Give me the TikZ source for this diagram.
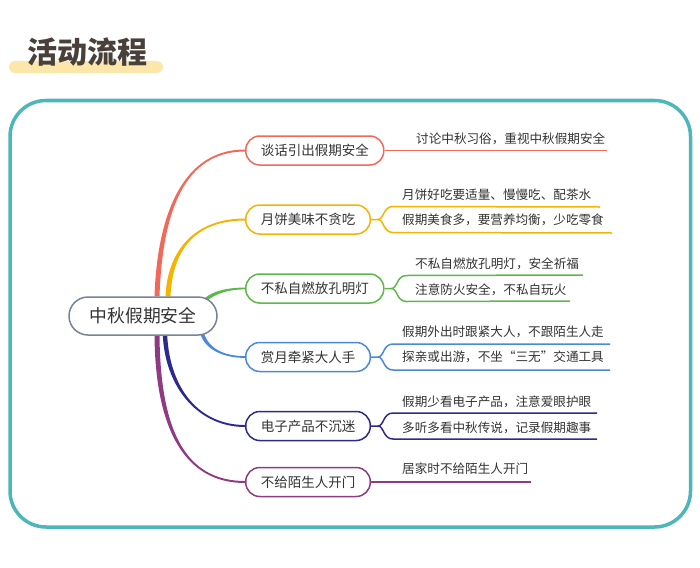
\documentclass[tikz,border=0pt]{standalone}
\usepackage{fontspec}
\usetikzlibrary{calc,backgrounds}
\newfontfamily\cjk{Noto Sans CJK SC}
\definecolor{cred}{HTML}{F0695B}
\definecolor{corange}{HTML}{F6B300}
\definecolor{cgreen}{HTML}{5DB947}
\definecolor{cblue}{HTML}{4A88D8}
\definecolor{cnavy}{HTML}{2C2A8C}
\definecolor{cpurple}{HTML}{8F3A82}
\definecolor{cteal}{HTML}{4DB6BA}
\definecolor{crootb}{HTML}{778396}
\definecolor{txt}{HTML}{333333}
\definecolor{titlec}{HTML}{4A403A}
\definecolor{barc}{HTML}{FCE6AA}
\newcommand\taper[7]{\fill[#1] ($(#2)+(#6)$) .. controls ($(#3)+(#6)$) and ($(#4)+(#7)$) .. ($(#5)+(#7)$) -- ($(#5)-(#7)$) .. controls ($(#4)-(#7)$) and ($(#3)-(#6)$) .. ($(#2)-(#6)$) -- cycle;}
\begin{document}
\begin{tikzpicture}[x=1pt,y=-1pt,font=\cjk,
  branchbox/.style={draw=#1, line width=1.5pt, rounded corners=14pt, fill=white, text=txt, inner xsep=15pt, inner ysep=0pt, minimum height=29pt, anchor=west, font=\cjk\fontsize{13.5}{16}\selectfont},
  leaftext/.style={anchor=west, inner sep=0pt, text=txt, font=\cjk\fontsize{12.6}{15}\selectfont},
  leafline/.style={draw=#1, line width=1.5pt}]
\useasboundingbox (0,0) rectangle (700,567);
% title
\fill[barc, rounded corners=6pt] (9,61) rectangle (163,73);
\node[anchor=west, inner sep=0pt, text=titlec, font=\cjk\bfseries\fontsize{30}{32}\selectfont] (title) at (27,52) {活动流程};
% frame
\draw[cteal, line width=3.5pt, rounded corners=36pt] (10,100.5) rectangle (690.5,527);
% root
\node[draw=crootb, line width=1.5pt, rounded corners=19pt, minimum width=148pt, minimum height=38pt, inner sep=0pt, fill=white, text=txt, font=\cjk\fontsize{17.8}{20}\selectfont] (root) at (143,316) {中秋假期安全};
% branches
\node[branchbox=cred] (b1) at (245,150.5) {谈话引出假期安全};
\node[branchbox=corange] (b2) at (245,219.5) {月饼美味不贪吃};
\node[branchbox=cgreen] (b3) at (245,288.5) {不私自燃放孔明灯};
\node[branchbox=cblue] (b4) at (245,357) {赏月牵紧大人手};
\node[branchbox=cnavy] (b5) at (245,426) {电子产品不沉迷};
\node[branchbox=cpurple] (b6) at (245,482) {不给陌生人开门};
% leaves
\node[leaftext] (l1) at (416,139) {讨论中秋习俗，重视中秋假期安全};
\node[leaftext] (l2a) at (402,195) {月饼好吃要适量、慢慢吃、配茶水};
\node[leaftext] (l2b) at (402,220) {假期美食多，要营养均衡，少吃零食};
\node[leaftext] (l3a) at (415,264) {不私自燃放孔明灯，安全祈福};
\node[leaftext] (l3b) at (415,290) {注意防火安全，不私自玩火};
\node[leaftext] (l4a) at (402,332) {假期外出时跟紧大人，不跟陌生人走};
\node[leaftext] (l4b) at (402,357) {探亲或出游，不坐“三无”交通工具};
\node[leaftext] (l5a) at (402,402) {假期少看电子产品，注意爱眼护眼};
\node[leaftext] (l5b) at (402,428) {多听多看中秋传说，记录假期趣事};
\node[leaftext] (l6) at (402,469) {居家时不给陌生人开门};
% line ends
\coordinate (e1) at (607,150.5);
\coordinate (e2a) at (600,207);
\coordinate (e2b) at (612,233);
\coordinate (e3a) at (583,275);
\coordinate (e3b) at (570,301);
\coordinate (e4a) at (610,344);
\coordinate (e4b) at (610,370);
\coordinate (e5a) at (597,413);
\coordinate (e5b) at (597,439);
\coordinate (e6) at (531,482);
% root connector starts
\coordinate (s1) at ($(root.north)+(14,0)$);
\coordinate (s2) at ($(root.north)+(25,0)$);
\coordinate (s3) at ($(root.center)+(62,-16)$);
\coordinate (s4) at ($(root.center)+(59,17)$);
\coordinate (s5) at ($(root.south)+(22,0)$);
\coordinate (s6) at ($(root.south)+(14,0)$);
\begin{scope}[on background layer]
\fill[white] (0,0) rectangle (700,567);
\taper{cred}{s1}{160,210}{185,150.5}{b1.west}{2.5,0}{0,1}
\taper{corange}{s2}{170,250}{195,219.5}{b2.west}{2.5,0}{0,1}
\taper{cgreen}{s3}{215,292}{228,288.5}{b3.west}{0.7,1.6}{0,0.9}
\taper{cblue}{s4}{207,350}{225,357}{b4.west}{1.7,-0.6}{0,-0.9}
\taper{cnavy}{s5}{168,390}{200,426}{b5.west}{2.2,0}{0,-1}
\taper{cpurple}{s6}{158,430}{185,482}{b6.west}{2.5,0}{0,-1}
% leaf lines
\draw[leafline=cred] (b1.east) -- (e1);
\draw[leafline=corange] (b2.east) -- ++(7,0) coordinate (f2) .. controls +(6,0) and +(-10,0) .. ++(15,-13) -- (e2a);
\draw[leafline=corange] (f2) .. controls +(6,0) and +(-10,0) .. ++(15,13) -- (e2b);
\draw[leafline=cgreen] (b3.east) -- ++(7,0) coordinate (f3) .. controls +(6,0) and +(-10,0) .. ++(15,-13) -- (e3a);
\draw[leafline=cgreen] (f3) .. controls +(6,0) and +(-10,0) .. ++(15,13) -- (e3b);
\draw[leafline=cblue] (b4.east) -- ++(7,0) coordinate (f4) .. controls +(6,0) and +(-10,0) .. ++(15,-13) -- (e4a);
\draw[leafline=cblue] (f4) .. controls +(6,0) and +(-10,0) .. ++(15,13) -- (e4b);
\draw[leafline=cnavy] (b5.east) -- ++(7,0) coordinate (f5) .. controls +(6,0) and +(-10,0) .. ++(15,-13) -- (e5a);
\draw[leafline=cnavy] (f5) .. controls +(6,0) and +(-10,0) .. ++(15,13) -- (e5b);
\draw[leafline=cpurple] (b6.east) -- (e6);
\end{scope}
\end{tikzpicture}
\end{document}
